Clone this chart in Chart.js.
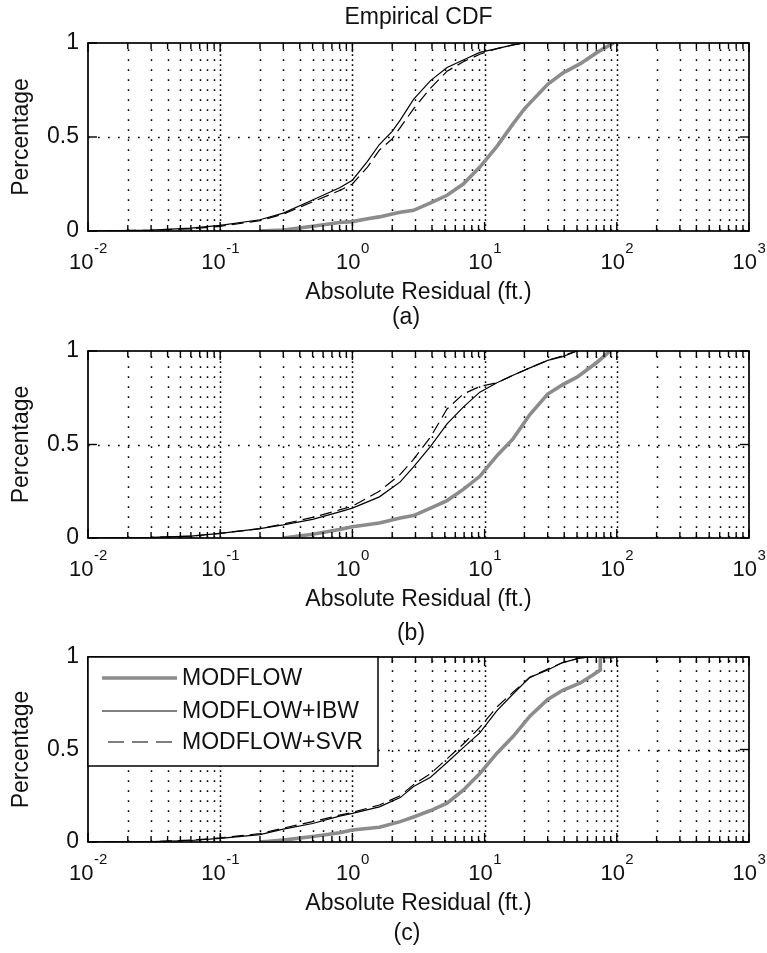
<!DOCTYPE html>
<html>
<head>
<meta charset="utf-8">
<script src="https://cdn.jsdelivr.net/npm/chart.js@4.4.0/dist/chart.umd.min.js"></script>
<style>
  html, body { margin: 0; padding: 0; background: #fff; }
  #wrap { position: relative; width: 767px; height: 953px; }
  #wrap canvas { position: absolute; left: 0; top: 0; }
</style>
</head>
<body>
<div id="wrap">
  <canvas id="cdfA" width="767" height="953"></canvas>
  <canvas id="cdfB" width="767" height="953"></canvas>
  <canvas id="cdfC" width="767" height="953"></canvas>
</div>
<script>
// absolute residual (ft.) and cumulative fraction
const residualA = [0.01, 0.03, 0.06, 0.1, 0.2, 0.3, 0.5, 0.8, 1, 1.3, 1.6, 2, 2.3, 2.9, 3.9, 5.2, 6.9, 9.2, 12.4, 16.4, 20, 30, 39, 53, 71, 89, 95];
const modflowA = [null, null, null, null, 0, 0.005, 0.025, 0.045, 0.05, 0.065, 0.075, 0.09, 0.10, 0.11, 0.15, 0.19, 0.25, 0.34, 0.45, 0.57, 0.65, 0.78, 0.84, 0.89, 0.95, 0.99, 1.0];
const ibwA = [0, 0.005, 0.015, 0.03, 0.06, 0.095, 0.165, 0.23, 0.27, 0.37, 0.46, 0.53, 0.59, 0.70, 0.80, 0.87, 0.91, 0.95, 0.97, 0.99, 1.0, null, null, null, null, null, null];
const svrA = [0, 0.004, 0.012, 0.025, 0.055, 0.09, 0.155, 0.215, 0.25, 0.34, 0.43, 0.49, 0.55, 0.65, 0.76, 0.85, 0.90, 0.94, 0.97, 0.99, 1.0, null, null, null, null, null, null];

const residualB = [0.01, 0.03, 0.06, 0.1, 0.2, 0.3, 0.5, 0.8, 1, 1.6, 2.3, 2.9, 3.9, 5.2, 6.9, 9.2, 12.4, 16.4, 22, 30, 39, 50, 71, 89];
const modflowB = [null, null, null, null, null, 0, 0.02, 0.045, 0.06, 0.08, 0.107, 0.12, 0.16, 0.20, 0.26, 0.33, 0.44, 0.53, 0.66, 0.77, 0.82, 0.86, 0.94, 1.0];
const ibwB = [0, 0.003, 0.01, 0.025, 0.05, 0.07, 0.10, 0.14, 0.16, 0.22, 0.30, 0.38, 0.49, 0.61, 0.70, 0.78, 0.83, 0.87, 0.91, 0.95, 0.97, 1.0, null, null];
const svrB = [0, 0.003, 0.01, 0.025, 0.05, 0.075, 0.11, 0.15, 0.17, 0.25, 0.34, 0.42, 0.54, 0.69, 0.77, 0.81, 0.83, 0.87, 0.91, 0.95, 0.975, 1.0, null, null];

const residualC = [0.01, 0.03, 0.06, 0.1, 0.2, 0.3, 0.5, 0.8, 1, 1.6, 2.3, 2.9, 3.9, 5.2, 6.9, 9.2, 12.4, 16.4, 22, 30, 39, 53, 65, 75, 75, 95];
const modflowC = [null, null, null, null, 0, 0.01, 0.03, 0.05, 0.065, 0.08, 0.11, 0.135, 0.17, 0.21, 0.28, 0.37, 0.48, 0.57, 0.68, 0.77, 0.82, 0.86, 0.90, 0.93, 1.0, 1.0];
const ibwC = [0, 0.002, 0.008, 0.02, 0.04, 0.07, 0.10, 0.14, 0.155, 0.19, 0.24, 0.30, 0.35, 0.43, 0.51, 0.59, 0.71, 0.80, 0.89, 0.93, 0.97, 0.995, 1.0, null, null, null];
const svrC = [0, 0.002, 0.01, 0.022, 0.045, 0.075, 0.11, 0.145, 0.16, 0.20, 0.25, 0.31, 0.37, 0.45, 0.53, 0.62, 0.73, 0.81, 0.89, 0.935, 0.97, 0.995, 1.0, null, null, null];

const seriesNames = ['MODFLOW', 'MODFLOW+IBW', 'MODFLOW+SVR'];
const decadeTicks = [0.01, 0.1, 1, 10, 100, 1000];
const decadeExponents = ['-2', '-1', '0', '1', '2', '3'];
const minorSteps = [2, 3, 4, 5, 6, 7, 8, 9];
const yTicks = [0, 0.5, 1];

const FONT = "'Liberation Sans', Arial, sans-serif";
const INK = '#111';
const FS = 23;
Chart.defaults.font.family = FONT;
Chart.defaults.color = INK;

function pts(xs, ys) {
    return xs.map((x, i) => ({ x: x, y: ys[i] }));
}

function minorValues() {
    const out = [];
    decadeTicks.slice(0, -1).forEach(d => minorSteps.forEach(m => out.push(d * m)));
    return out;
}

function seg(ctx, x1, y1, x2, y2) {
    ctx.beginPath();
    ctx.moveTo(x1, y1);
    ctx.lineTo(x2, y2);
    ctx.stroke();
}

// matlab style box, dotted grid, inward ticks, 10^n labels, caption and legend
const matlabAxes = {
    id: 'matlabAxes',
    beforeDatasetsDraw(chart) {
        const { ctx, chartArea: a, scales: { x, y } } = chart;
        ctx.save();
        ctx.strokeStyle = '#000';
        ctx.lineWidth = 1.5;
        ctx.setLineDash([1.7, 8.3]);
        minorValues().forEach(v => {
            const px = Math.round(x.getPixelForValue(v)) + 0.5;
            seg(ctx, px, a.bottom, px, a.top);
        });
        yTicks.slice(1, -1).forEach(v => {
            const py = Math.round(y.getPixelForValue(v)) + 0.5;
            seg(ctx, a.left, py, a.right, py);
        });
        ctx.setLineDash([1.7, 3.3]);
        decadeTicks.slice(1, -1).forEach(v => {
            const px = Math.round(x.getPixelForValue(v)) + 0.5;
            seg(ctx, px, a.bottom, px, a.top);
        });
        ctx.restore();
    },
    afterDatasetsDraw(chart, args, opts) {
        const { ctx, chartArea: a, scales: { x, y } } = chart;
        ctx.save();
        ctx.strokeStyle = '#000';
        ctx.setLineDash([]);
        ctx.lineWidth = 1.7;
        ctx.strokeRect(a.left, a.top, a.right - a.left, a.bottom - a.top);

        // inward tick marks
        ctx.lineWidth = 1.4;
        minorValues().forEach(v => {
            const px = x.getPixelForValue(v);
            seg(ctx, px, a.bottom, px, a.bottom - 6);
            seg(ctx, px, a.top, px, a.top + 6);
        });
        decadeTicks.forEach(v => {
            const px = x.getPixelForValue(v);
            seg(ctx, px, a.bottom, px, a.bottom - 9);
            seg(ctx, px, a.top, px, a.top + 9);
        });
        yTicks.forEach(v => {
            const py = y.getPixelForValue(v);
            seg(ctx, a.left, py, a.left + 9, py);
            seg(ctx, a.right, py, a.right - 9, py);
        });

        // 10^n tick labels
        ctx.fillStyle = INK;
        ctx.textBaseline = 'alphabetic';
        ctx.textAlign = 'left';
        decadeTicks.forEach((v, i) => {
            const px = x.getPixelForValue(v);
            ctx.font = '22px ' + FONT;
            const wBase = ctx.measureText('10').width;
            ctx.font = '15px ' + FONT;
            const wExp = ctx.measureText(decadeExponents[i]).width;
            const start = px - (wBase + wExp) / 2;
            ctx.font = '22px ' + FONT;
            ctx.fillText('10', start, a.bottom + 38);
            ctx.font = '15px ' + FONT;
            ctx.fillText(decadeExponents[i], start + wBase + 0.5, a.bottom + 22);
        });

        // panel caption
        ctx.font = FS + 'px ' + FONT;
        ctx.textAlign = 'center';
        ctx.textBaseline = 'middle';
        ctx.fillText(opts.caption, opts.captionX, opts.captionY);

        if (opts.legend) {
            const lx = a.left, ly = a.top, lw = 290, lh = 109;
            ctx.fillStyle = '#fff';
            ctx.fillRect(lx, ly, lw, lh);
            ctx.lineWidth = 1.5;
            ctx.strokeStyle = '#000';
            ctx.strokeRect(lx, ly, lw, lh);
            const rows = [21, 54, 85];
            chart.data.datasets.forEach((ds, i) => {
                const ry = ly + rows[i];
                ctx.strokeStyle = ds.borderColor;
                ctx.lineWidth = ds.borderWidth;
                ctx.setLineDash(ds.borderDash ? [16, 8] : []);
                ctx.lineDashOffset = ds.borderDash ? -6 : 0;
                seg(ctx, lx + 14, ry, lx + 89, ry);
                ctx.setLineDash([]);
                ctx.fillStyle = INK;
                ctx.textAlign = 'left';
                ctx.fillText(ds.label, lx + 94, ry + 1);
            });
        }
        ctx.restore();
    }
};

function makePanel(id, xs, modflow, ibw, svr, layoutPad, withTitle, caption) {
    const ctx = document.getElementById(id).getContext('2d');
    const config = {
        type: 'scatter',
        data: {
            datasets: [
                {
                    label: seriesNames[0],
                    data: pts(xs, modflow),
                    showLine: true,
                    borderColor: '#8c8c8c',
                    borderWidth: 3.6,
                    pointRadius: 0,
                    order: 2,
                },
                {
                    label: seriesNames[1],
                    data: pts(xs, ibw),
                    showLine: true,
                    borderColor: '#000',
                    borderWidth: 1.2,
                    pointRadius: 0,
                    order: 1,
                },
                {
                    label: seriesNames[2],
                    data: pts(xs, svr),
                    showLine: true,
                    borderColor: '#000',
                    borderWidth: 1.2,
                    borderDash: [12, 6],
                    pointRadius: 0,
                    order: 0,
                },
            ]
        },
        options: {
            responsive: false,
            animation: false,
            events: [],
            layout: { padding: layoutPad },
            plugins: {
                legend: { display: false },
                tooltip: { enabled: false },
                title: {
                    display: withTitle,
                    text: 'Empirical CDF',
                    fullSize: false,
                    color: INK,
                    font: { size: FS, weight: 'normal' },
                    padding: { top: 4, bottom: 11.4 },
                },
                matlabAxes: caption,
            },
            scales: {
                x: {
                    type: 'logarithmic',
                    min: 0.01,
                    max: 1000,
                    grid: { display: false, drawTicks: false },
                    border: { display: false },
                    ticks: { display: false },
                    title: {
                        display: true,
                        text: 'Absolute Residual (ft.)',
                        color: INK,
                        font: { size: FS },
                        padding: { top: 0, bottom: 0 },
                    },
                    afterFit: s => { s.height = 75; },
                },
                y: {
                    min: 0,
                    max: 1,
                    grid: { display: false, drawTicks: false },
                    border: { display: false },
                    ticks: {
                        stepSize: 0.5,
                        padding: 9,
                        color: INK,
                        font: { size: FS },
                        callback: v => String(v),
                    },
                    title: {
                        display: true,
                        text: 'Percentage',
                        color: INK,
                        font: { size: FS },
                        padding: { top: 8, bottom: 0 },
                    },
                    afterFit: s => { s.width = 88; },
                }
            }
        },
        plugins: [matlabAxes]
    };
    new Chart(ctx, config);
}

makePanel('cdfA', residualA, modflowA, ibwA, svrA,
    { left: 0, right: 18, top: 0, bottom: 647 }, true,
    { caption: '(a)', captionX: 406, captionY: 318, legend: false });
makePanel('cdfB', residualB, modflowB, ibwB, svrB,
    { left: 0, right: 18, top: 351, bottom: 340 }, false,
    { caption: '(b)', captionX: 411, captionY: 634, legend: false });
makePanel('cdfC', residualC, modflowC, ibwC, svrC,
    { left: 0, right: 18, top: 657, bottom: 36 }, false,
    { caption: '(c)', captionX: 407, captionY: 934, legend: true });
</script>
</body>
</html>
